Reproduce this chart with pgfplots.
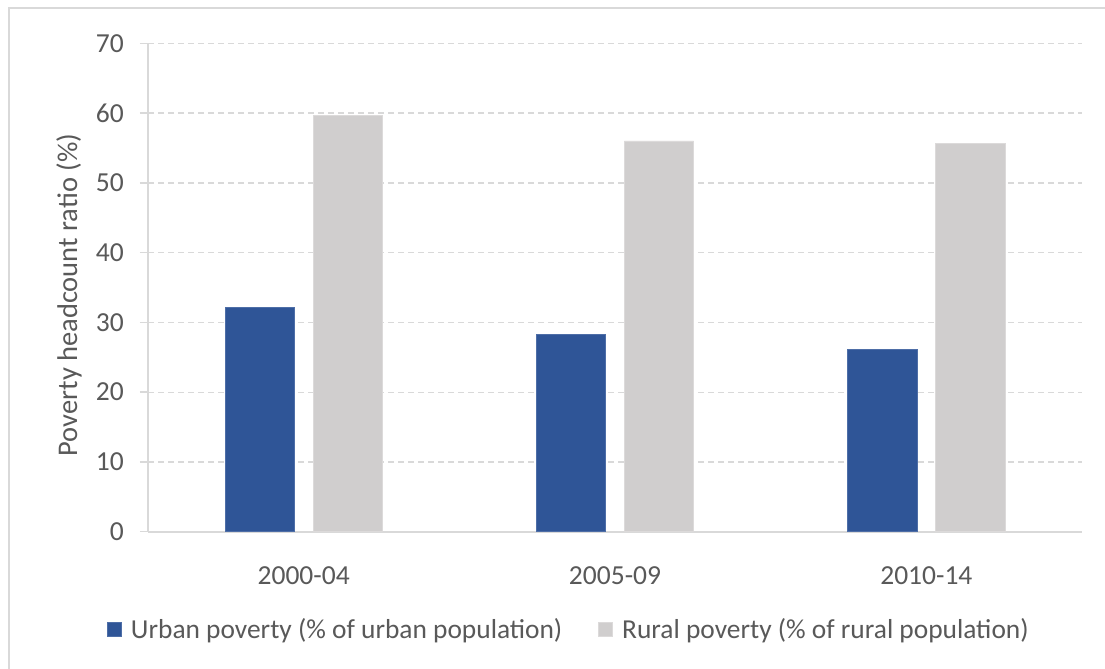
\documentclass[border=0pt]{standalone}
\usepackage{fontspec}
\setmainfont{Carlito}
\usepackage{pgfplots}
\pgfplotsset{compat=1.18}
\definecolor{urban}{HTML}{2F5597}
\definecolor{rural}{HTML}{D0CECE}
\definecolor{txt}{HTML}{595959}
\definecolor{axl}{HTML}{D9D9D9}
\begin{document}
\begin{tikzpicture}[x=1bp,y=1bp]
\path[use as bounding box] (0,0) rectangle (1105,-669);
\fill[white] (0,0) rectangle (1105,-669);
\draw[axl, line width=2bp] (9,-669) -- (9,-8) -- (1105,-8);
\begin{axis}[
  at={(148bp,-531.7bp)}, anchor=south west,
  scale only axis, width=934bp, height=488.4bp,
  xmin=-0.5, xmax=2.5, ymin=0, ymax=70,
  ytick={0,10,...,70},
  xtick={0,1,2}, xticklabels={2000-04,2005-09,2010-14},
  axis x line*=bottom, axis y line*=left,
  axis line style={axl, line width=2bp},
  ymajorgrids, grid style={axl, dash pattern=on 6bp off 4bp, line width=1.3bp},
  major tick length=8bp, tick align=outside,
  ytick style={axl, line width=1.5bp},
  xtick style={draw=none},
  tick label style={font=\fontsize{27.5bp}{32bp}\selectfont, text=txt},
  /pgf/number format/assume math mode=true,
  yticklabel style={inner sep=0pt, xshift=-16bp},
  xticklabel style={inner sep=0pt, anchor=base, yshift=-45bp},
  ylabel={Poverty headcount ratio (\%)},
  every axis y label/.style={at={(axis description cs:-0.0846,0.4847)}, rotate=90, anchor=center, inner sep=0pt, font=\fontsize{28.5bp}{32bp}\selectfont, text=txt},
  ybar, bar width=0.222,
  legend columns=2,
  legend image code/.code={\fill[#1] (0bp,-7bp) rectangle (14bp,7bp);},
  legend style={draw=none, fill=none, at={(-0.0471,-0.1992)}, anchor=west,
    font=\fontsize{27.4bp}{32bp}\selectfont, text=txt,
    nodes={inner sep=0pt},
    /tikz/every odd column/.append style={column sep=9bp},
    /tikz/every even column/.append style={column sep=36bp}},
]
\addplot[fill=urban, draw=urban!85!white, line width=0.8bp, bar shift=-0.1413] coordinates {(0,32.1) (1,28.3) (2,26.1)};
\addplot[fill=rural, draw=rural!75!white, line width=0.8bp, bar shift=0.1413] coordinates {(0,59.6) (1,56.0) (2,55.6)};
\legend{Urban poverty (\% of urban population), Rural poverty (\% of rural population)}
\end{axis}
\end{tikzpicture}
\end{document}
